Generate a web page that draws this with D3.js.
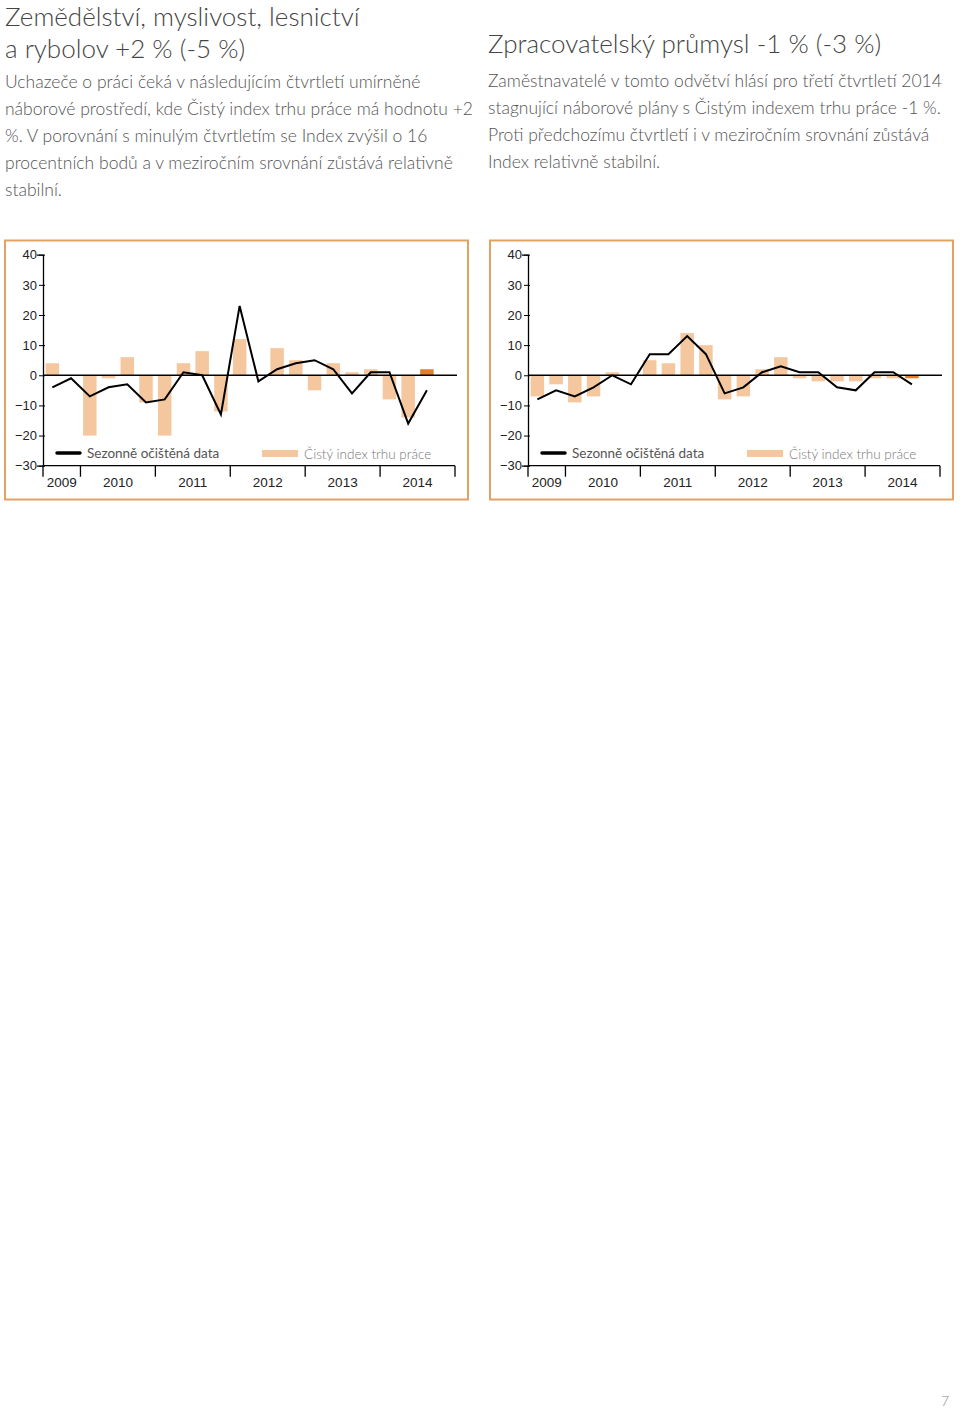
<!DOCTYPE html>
<html><head><meta charset="utf-8">
<script src="https://cdn.jsdelivr.net/npm/d3@7"></script>
<style>
body{margin:0;background:#fff;font-family:Lato,"Open Sans",sans-serif;}
.t{position:absolute;color:#555;font-weight:300;}
</style></head>
<body>
<div class="t" style="left:5px;top:0;font-size:26px;line-height:32px;color:#444">Zemědělství, myslivost, lesnictví<br>a rybolov +2 % (-5 %)</div>
<div class="t" style="left:5px;top:68px;font-size:17.5px;line-height:27px;width:470px">Uchazeče o práci čeká v následujícím čtvrtletí umírněné náborové prostředí, kde Čistý index trhu práce má hodnotu +2 %. V porovnání s minulým čtvrtletím se Index zvýšil o 16 procentních bodů a v meziročním srovnání zůstává relativně stabilní.</div>
<div class="t" style="left:488px;top:27px;font-size:26px;line-height:32px;color:#444">Zpracovatelský průmysl -1 % (-3 %)</div>
<div class="t" style="left:488px;top:67px;font-size:17.5px;line-height:27px;width:470px">Zaměstnavatelé v tomto odvětví hlásí pro třetí čtvrtletí 2014 stagnující náborové plány s Čistým indexem trhu práce -1 %. Proti předchozímu čtvrtletí i v meziročním srovnání zůstává Index relativně stabilní.</div>
<div class="t" style="left:941px;top:1392px;font-size:14px;color:#888">7</div>
<svg id="c" width="960" height="1410" style="position:absolute;left:0;top:0"></svg>
<script>
const quarters = ["2009Q3","2009Q4","2010Q1","2010Q2","2010Q3","2010Q4","2011Q1","2011Q2","2011Q3","2011Q4","2012Q1","2012Q2","2012Q3","2012Q4","2013Q1","2013Q2","2013Q3","2013Q4","2014Q1","2014Q2","2014Q3","2014Q4"];
const years = ["2009","2010","2011","2012","2013","2014"];
const yearQuarters = [2,4,4,4,4,4];
const yTicks = [40,30,20,10,0,-10,-20,-30];

const agriBars = [4,0,-20,-1,6,-9,-20,4,8,-12,12,0,9,5,-5,4,1,2,-8,-14,2];
const agriLine = [-4,-1,-7,-4,-3,-9,-8,1,0,-13,23,-2,2,4,5,2,-6,1,1,-16,-5];
const manuBars = [-7,-3,-9,-7,1,0,5,4,14,10,-8,-7,2,6,-1,-2,-2,-2,-1,-1,-1];
const manuLine = [-8,-5,-7,-4,0,-3,7,7,13,7,-6,-4,1,3,1,1,-4,-5,1,1,-3];

const svg = d3.select("#c");

function panel(x0, axisX, rightX, bars, line){
  svg.append("rect").attr("x",x0).attr("y",240.5).attr("width",463).attr("height",259)
    .attr("fill","none").attr("stroke","#e3a261").attr("stroke-width",2);
  const y = d3.scaleLinear().domain([-30,40]).range([465.7,254.7]);
  const x = d3.scaleBand().domain(quarters).range([axisX,rightX]).paddingInner(0.28).paddingOuter(0.14);
  const xc = q => x(q)+x.bandwidth()/2;
  const g = svg.append("g");
  g.append("g").attr("transform",`translate(${axisX},0)`)
    .call(d3.axisLeft(y).tickValues(yTicks).tickSize(6).tickFormat(d3.format("d")))
    .call(a=>a.select(".domain").attr("stroke","#000").attr("stroke-width",1.3))
    .call(a=>a.selectAll(".tick line").attr("stroke","#000").attr("x2",2).attr("x1",-4))
    .call(a=>a.selectAll("text").attr("font-size",13).attr("font-family","Liberation Sans, sans-serif").attr("fill","#222").attr("x",-6));
  g.selectAll(".b").data(bars).join("rect")
    .attr("x",(d,i)=>x(quarters[i])).attr("width",x.bandwidth())
    .attr("y",d=>y(Math.max(0,d))).attr("height",d=>Math.abs(y(d)-y(0)))
    .attr("fill",(d,i)=>i===bars.length-1?"#e07f2e":"#f4c79e");
  g.append("line").attr("x1",axisX).attr("x2",rightX+2).attr("y1",y(0)).attr("y2",y(0)).attr("stroke","#000").attr("stroke-width",1.3);
  g.append("path").datum(line).attr("fill","none").attr("stroke","#000").attr("stroke-width",2)
    .attr("d",d3.line().x((d,i)=>xc(quarters[i])).y(d=>y(d)));
  // bottom axis with year separators
  const yb = y(-30);
  g.append("line").attr("x1",axisX).attr("x2",rightX).attr("y1",yb).attr("y2",yb).attr("stroke","#000").attr("stroke-width",1.3);
  let qi = 0;
  const bounds=[axisX];
  yearQuarters.forEach(n=>{qi+=n; bounds.push(qi>=quarters.length?rightX:x(quarters[qi])-x.step()*x.paddingInner()/2);});
  g.selectAll(".sep").data(bounds).join("line").attr("x1",d=>d).attr("x2",d=>d).attr("y1",yb).attr("y2",yb+11).attr("stroke","#000").attr("stroke-width",1.3);
  g.selectAll(".yr").data(years).join("text").attr("x",(d,i)=>(bounds[i]+bounds[i+1])/2).attr("y",yb+21)
    .attr("text-anchor","middle").attr("font-size",13.5).attr("font-family","Liberation Sans, sans-serif").attr("fill","#222").text(d=>d);
  // legend
  g.append("line").attr("x1",axisX+14).attr("x2",axisX+37).attr("y1",453).attr("y2",453).attr("stroke","#000").attr("stroke-width",3.5).attr("stroke-linecap","round");
  g.append("text").attr("x",axisX+44).attr("y",458).attr("font-size",13.5).attr("fill","#555").attr("font-family","Lato,sans-serif").text("Sezonně očištěná data");
  g.append("rect").attr("x",axisX+219).attr("y",450).attr("width",36).attr("height",7).attr("fill","#f4c79e");
  g.append("text").attr("x",axisX+261).attr("y",459).attr("font-size",13.5).attr("fill","#777").attr("font-family","Lato,sans-serif").attr("font-weight",300).text("Čistý index trhu práce");
}
panel(5,43,455,agriBars,agriLine);
panel(490,528,940,manuBars,manuLine);
</script>
</body></html>
